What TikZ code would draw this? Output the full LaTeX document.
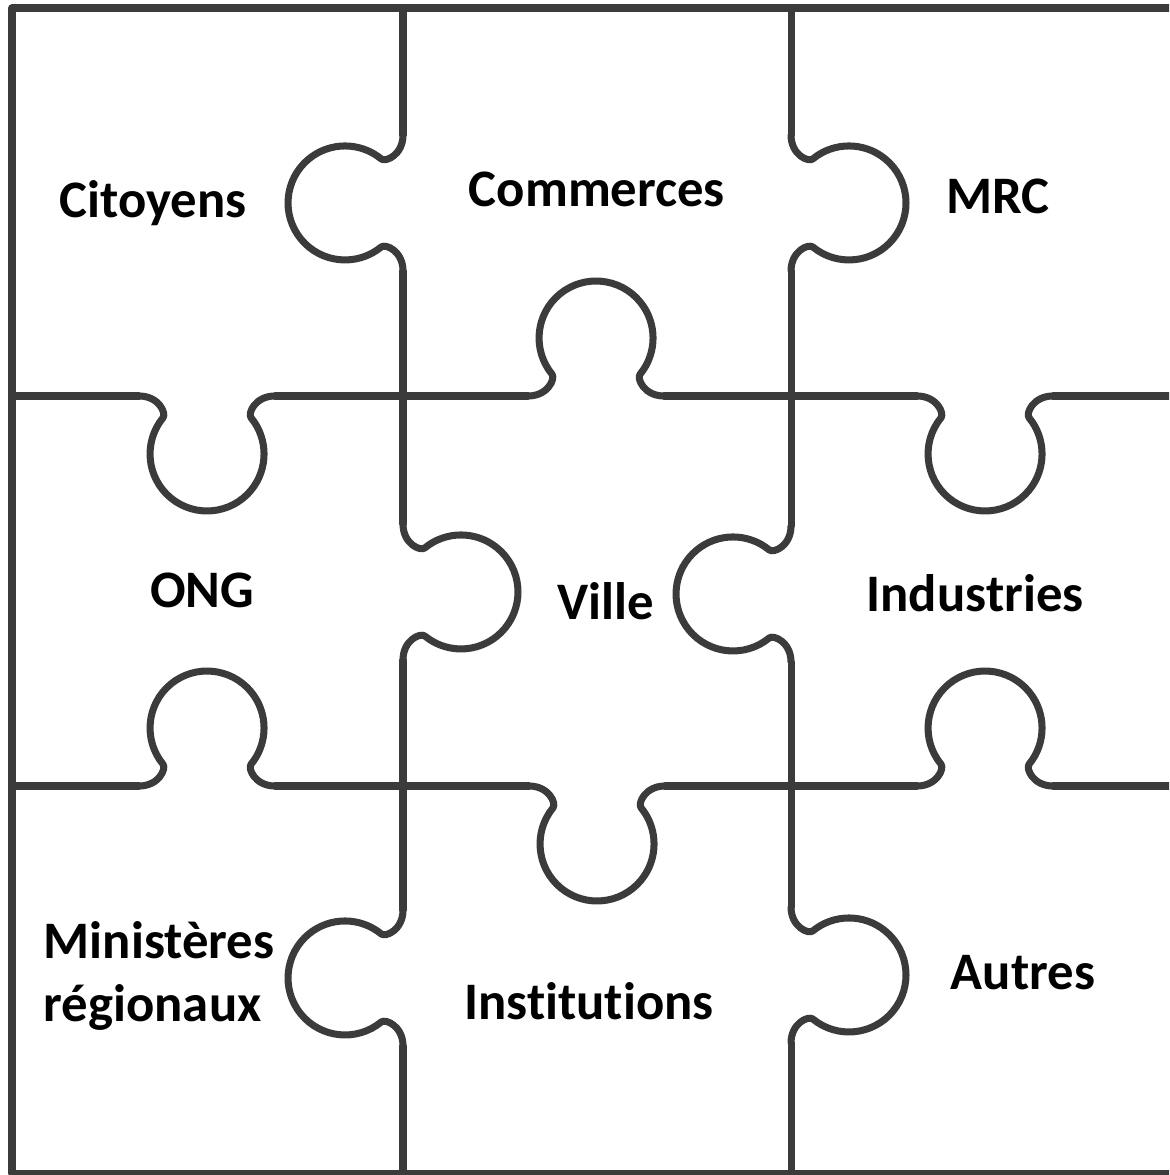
\documentclass[tikz,border=0pt]{standalone}
\usepackage{fontspec}
\setmainfont{Carlito}[Ligatures=NoCommon]
\usepackage{tikz}
\definecolor{edgegray}{HTML}{3B3B3B}
\newcommand{\knob}[4]{%
  \draw[edge line,shift={(#1,#2)},rotate=#3,yscale=#4]
    (-68,0) .. controls (-48,0) and (-40.5,17.5) .. (-44,21.8)
    arc[start angle=219.4,end angle=-39.4,radius=57]
    .. controls (40.5,17.5) and (48,0) .. (68,0);}

\begin{document}
\begin{tikzpicture}[x=0.1mm,y=-0.1mm,
  edge line/.style={draw=edgegray,line width=2pt,line cap=round,line join=round},
  main node/.style={font=\bfseries\fontsize{15pt}{18pt}\selectfont,inner sep=0pt}]

  \useasboundingbox (0,0) rectangle (1169,1175);
  \clip (0,0) rectangle (1169,1175);

  \node[main node,anchor=base] (101) at (153,218) {Citoyens};
  \node[main node,anchor=base] (102) at (597,207) {Commerces};
  \node[main node,anchor=base] (103) at (998,214) {MRC};
  \node[main node,anchor=base] (104) at (202,607) {ONG};
  \node[main node,anchor=base] (105) at (606,619) {Ville};
  \node[main node,anchor=base] (106) at (975,611) {Industries};
  \node[main node,anchor=west,align=left] (107) at (43,976)
    {Ministères\\régionaux};
  \node[main node,anchor=base] (108) at (589,1019) {Institutions};
  \node[main node,anchor=base] (109) at (1023,989) {Autres};

  % frame and straight parts of the cuts
  \draw[edge line] (1180,8) -- (12,8) -- (12,1173) -- (1180,1173);
  \draw[edge line] (403,8) -- (403,135) (403,271) -- (403,524)
    (403,660) -- (403,910) (403,1046) -- (403,1173);
  \draw[edge line] (791,8) -- (791,135) (791,271) -- (791,526)
    (791,662) -- (791,907) (791,1043) -- (791,1173);
  \draw[edge line] (12,396) -- (139,396) (275,396) -- (528,396)
    (664,396) -- (917,396) (1053,396) -- (1180,396);
  \draw[edge line] (12,786) -- (139,786) (275,786) -- (529,786)
    (665,786) -- (917,786) (1053,786) -- (1180,786);

  % knobs
  \knob{403}{203}{90}{-1}
  \knob{403}{592}{90}{1}
  \knob{403}{978}{90}{-1}
  \knob{791}{203}{90}{1}
  \knob{791}{594}{90}{-1}
  \knob{791}{975}{90}{1}
  \knob{207}{396}{0}{1}
  \knob{596}{396}{0}{-1}
  \knob{985}{396}{0}{1}
  \knob{207}{786}{0}{-1}
  \knob{597}{786}{0}{1}
  \knob{985}{786}{0}{-1}

\end{tikzpicture}
\end{document}
